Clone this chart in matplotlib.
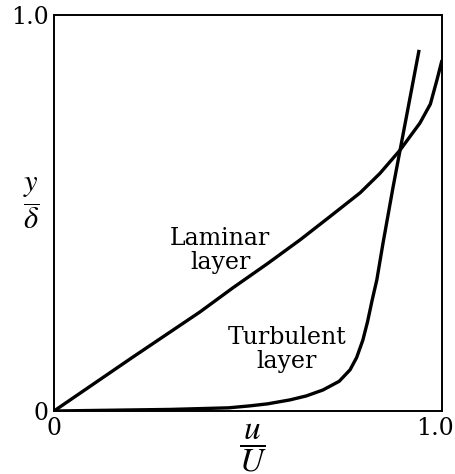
import matplotlib
matplotlib.use("Agg")
import matplotlib.pyplot as plt
from matplotlib.transforms import ScaledTranslation

# Data
laminar_u = [0, 0.20, 0.376, 0.461, 0.55, 0.634, 0.71, 0.789, 0.84, 0.892, 0.943, 0.97, 0.987, 1.0]
laminar_y = [0, 0.134, 0.250, 0.311, 0.372, 0.432, 0.490, 0.551, 0.600, 0.659, 0.727, 0.775, 0.836, 0.886]

turbulent_u = [0, 0.30, 0.45, 0.505, 0.55, 0.608, 0.65, 0.693, 0.735, 0.763, 0.780, 0.796,
               0.808, 0.820, 0.832, 0.848, 0.874, 0.892, 0.941]
turbulent_y = [0, 0.004, 0.008, 0.013, 0.018, 0.028, 0.038, 0.053, 0.075, 0.104, 0.135, 0.179,
               0.225, 0.280, 0.331, 0.424, 0.566, 0.659, 0.912]

tick_vals = [0, 1.0]
tick_labels = ["0", "1.0"]

plt.rcParams['mathtext.fontset'] = 'stix'
serif = ['DejaVu Serif']

fig = plt.figure(figsize=(4.55, 4.74), dpi=100)
ax = fig.add_axes([54/455, 63/474, 388/455, 396/474])

ax.plot(laminar_u, laminar_y, color='black', lw=2.4, solid_capstyle='butt',
        solid_joinstyle='round')
ax.plot(turbulent_u, turbulent_y, color='black', lw=2.4, solid_capstyle='butt',
        solid_joinstyle='round')

ax.set_xlim(0, 1.0)
ax.set_ylim(0, 1.0)
for s in ax.spines.values():
    s.set_linewidth(1.4)

ax.set_xticks(tick_vals)
ax.set_xticklabels(tick_labels, family=serif, fontsize=17)
ax.set_yticks(tick_vals)
ax.set_yticklabels(tick_labels, family=serif, fontsize=17)
ax.tick_params(length=0, pad=4)
# shift the right x tick label inward so it stays inside the figure
lbl = ax.get_xticklabels()[1]
lbl.set_transform(lbl.get_transform() + ScaledTranslation(-7/100, 0, fig.dpi_scale_trans))

ax.text(0.428, 0.405, "Laminar\nlayer", ha='center', va='center', family=serif,
        fontsize=17, linespacing=1.05)
ax.text(0.60, 0.155, "Turbulent\nlayer", ha='center', va='center', family=serif,
        fontsize=17, linespacing=1.05)

fig.text(253/455, 1 - 448/474, r'$\dfrac{u}{U}$', ha='center', va='center', fontsize=24)
fig.text(31/455, 1 - 204/474, r'$\dfrac{y}{\delta}$', ha='center', va='center', fontsize=22)

fig.savefig("out.png", dpi=100)
